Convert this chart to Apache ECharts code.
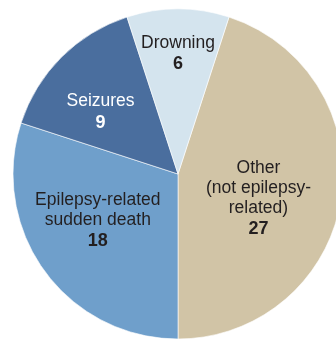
<!DOCTYPE html>
<html><head><meta charset="utf-8">
<script src="https://cdn.jsdelivr.net/npm/echarts@6/dist/echarts.min.js"></script>
<style>html,body{margin:0;padding:0;background:#fff}#c{width:336px;height:339px}</style>
</head><body><div id="c"></div>
<script>
const categories = ['Other (not epilepsy-related)', 'Epilepsy-related sudden death', 'Seizures', 'Drowning'];
const labelLines = [['Other', '(not epilepsy-', 'related)'], ['Epilepsy-related', 'sudden death'], ['Seizures'], ['Drowning']];
const values = [27, 18, 9, 6];
const colors = ['#d1c4a6', '#6f9fcb', '#4a6e9e', '#d4e4ee'];
const textColors = ['#231f20', '#231f20', '#ffffff', '#231f20'];
const labelShift = [[-4, 12], [-11, -3], [-17, -1], [0, -34]];

const chart = echarts.init(document.getElementById('c'), null, {renderer: 'canvas'});
const data = categories.map((c, i) => ({
  name: c,
  value: values[i],
  itemStyle: {color: colors[i]},
  label: {
    formatter: labelLines[i].map(l => '{a|' + l + '}').join('\n') + '\n{b|' + values[i] + '}',
    rich: {
      a: {fontFamily: 'Liberation Sans, Arial, sans-serif', fontSize: 17.5, lineHeight: 20, color: textColors[i]},
      b: {fontFamily: 'Liberation Sans, Arial, sans-serif', fontSize: 18, fontWeight: 'bold', lineHeight: 22, color: textColors[i]}
    }
  }
}));
chart.setOption({
  animation: false,
  series: [{
    type: 'pie',
    center: [178, 174],
    radius: [0, 165],
    startAngle: 72,
    clockwise: true,
    data: data,
    itemStyle: {borderColor: '#ffffff', borderWidth: 0.6},
    label: {show: true, position: 'inside', align: 'center'},
    labelLine: {show: false},
    emphasis: {disabled: true},
    labelLayout: function (p) {
      const s = labelShift[p.dataIndex];
      return {dx: s[0], dy: s[1]};
    }
  }]
});
</script></body></html>
